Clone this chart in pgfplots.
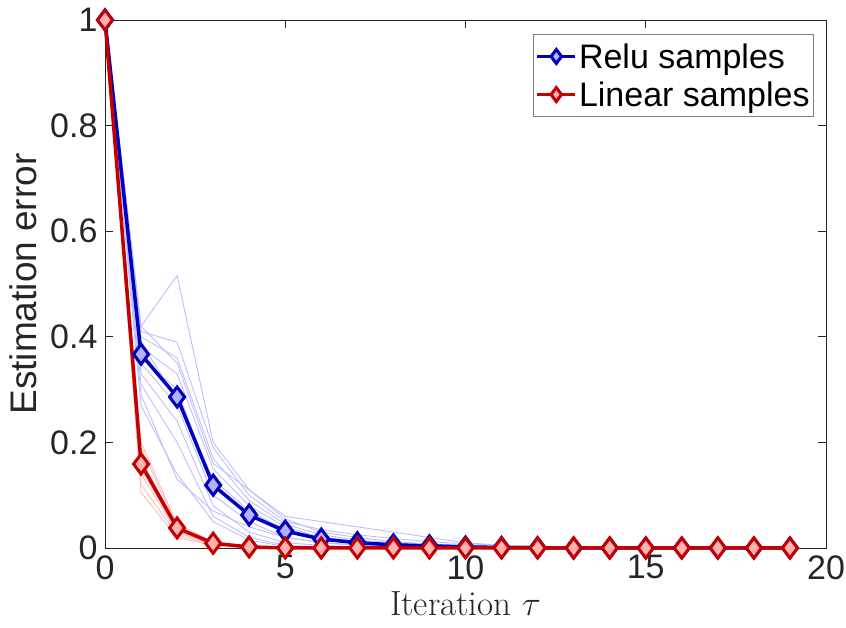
\RequirePackage{fix-cm}
\documentclass[border=0pt]{standalone}
\usepackage{pgfplots}
\pgfplotsset{compat=1.18}
\usepackage{pgfplotstable}
\usepackage{fontspec}
\setsansfont{Liberation Sans}

\definecolor{reluc}{RGB}{0,0,190}
\definecolor{linc}{RGB}{195,0,0}
\definecolor{relufill}{RGB}{178,178,255}
\definecolor{linfill}{RGB}{255,178,178}
\definecolor{axgray}{RGB}{38,38,38}

% relu runs (b1..b12) and their mean
\pgfplotstableread{
it b1 b2 b3 b4 b5 b6 b7 b8 b9 b10 b11 b12 main
0 1 1 1 1 1 1 1 1 1 1 1 1 1
1 0.42 0.41 0.40 0.38 0.36 0.35 0.33 0.31 0.29 0.27 0.42 0.39 0.367
2 0.516 0.39 0.36 0.33 0.30 0.27 0.24 0.20 0.13 0.14 0.35 0.28 0.286
3 0.20 0.19 0.17 0.15 0.12 0.10 0.08 0.06 0.07 0.05 0.16 0.13 0.119
4 0.11 0.10 0.09 0.08 0.06 0.05 0.03 0.02 0.04 0.015 0.11 0.07 0.0625
5 0.055 0.05 0.045 0.04 0.03 0.02 0.01 0.005 0.02 0.003 0.06 0.035 0.032
6 0.03 0.035 0.025 0.02 0.015 0.01 0.005 0.002 0.01 0.001 0.05 0.02 0.017
7 0.02 0.025 0.015 0.012 0.008 0.005 0.002 0.001 0.006 0 0.04 0.012 0.010
8 0.012 0.018 0.01 0.008 0.005 0.003 0.001 0 0.004 0 0.03 0.008 0.006
9 0.008 0.012 0.006 0.005 0.003 0.002 0 0 0.002 0 0.02 0.005 0.004
10 0.005 0.008 0.004 0.003 0.002 0.001 0 0 0.001 0 0.01 0.003 0.002
11 0.003 0.005 0.002 0.002 0.001 0 0 0 0 0 0.005 0.002 0.001
12 0.002 0.003 0.001 0.001 0 0 0 0 0 0 0.003 0.001 0.0005
13 0.001 0.002 0 0 0 0 0 0 0 0 0.002 0 0
14 0 0.001 0 0 0 0 0 0 0 0 0.001 0 0
15 0 0 0 0 0 0 0 0 0 0 0 0 0
16 0 0 0 0 0 0 0 0 0 0 0 0 0
17 0 0 0 0 0 0 0 0 0 0 0 0 0
18 0 0 0 0 0 0 0 0 0 0 0 0 0
19 0 0 0 0 0 0 0 0 0 0 0 0 0
}\relutab

% linear runs (r1..r8) and their mean
\pgfplotstableread{
it r1 r2 r3 r4 r5 r6 r7 r8 main
0 1 1 1 1 1 1 1 1 1
1 0.20 0.19 0.17 0.16 0.15 0.14 0.12 0.105 0.159
2 0.045 0.04 0.038 0.035 0.032 0.03 0.025 0.02 0.038
3 0.012 0.01 0.009 0.008 0.007 0.006 0.005 0.004 0.009
4 0.003 0.002 0.002 0.002 0.001 0.001 0.001 0.001 0.002
5 0 0 0 0 0 0 0 0 0
6 0 0 0 0 0 0 0 0 0
7 0 0 0 0 0 0 0 0 0
8 0 0 0 0 0 0 0 0 0
9 0 0 0 0 0 0 0 0 0
10 0 0 0 0 0 0 0 0 0
11 0 0 0 0 0 0 0 0 0
12 0 0 0 0 0 0 0 0 0
13 0 0 0 0 0 0 0 0 0
14 0 0 0 0 0 0 0 0 0
15 0 0 0 0 0 0 0 0 0
16 0 0 0 0 0 0 0 0 0
17 0 0 0 0 0 0 0 0 0
18 0 0 0 0 0 0 0 0 0
19 0 0 0 0 0 0 0 0 0
}\lintab

\begin{document}
\begin{tikzpicture}
\begin{axis}[
    scale only axis,
    width=721pt, height=528pt,
    xmin=0, xmax=20, ymin=0, ymax=1,
    xtick={0,5,...,20},
    ytick={0,0.2,...,1},
    tick align=inside,
    major tick length=8pt,
    axis line style={axgray, line width=0.8pt},
    every tick/.style={axgray, line width=0.8pt},
    tick label style={font=\fontsize{34}{40}\sffamily, text=axgray},
    /pgf/number format/assume math mode=true,
    xticklabel style={yshift=-4pt},
    yticklabel style={xshift=-4pt},
    xlabel={Iteration $\tau$},
    xlabel style={font=\fontsize{35}{42}\selectfont, text=axgray, yshift=-5pt},
    ylabel={Estimation error},
    ylabel style={font=\fontsize{37}{44}\sffamily, text=axgray, yshift=6pt},
    legend style={at={(rel axis cs:1,1)}, anchor=north east,
        xshift=-12pt, yshift=-14pt,
        draw=gray, line width=0.8pt,
        font=\fontsize{34}{40}\sffamily,
        inner xsep=2pt, inner ysep=7pt,
        row sep=8pt},
    legend cell align=left,
    legend image code/.code={
        \draw[#1, mark=none] (0pt,0pt) -- (38pt,0pt);
        \draw[#1, mark size=7pt, only marks] plot coordinates {(19pt,0pt)};
    },
    clip=false,
]
\pgfplotsinvokeforeach{1,...,12}{
  \addplot[forget plot, color=relufill!85!white, line width=0.9pt] table[x=it, y=b#1]{\relutab};
}
\pgfplotsinvokeforeach{1,...,8}{
  \addplot[forget plot, color=linfill!90!white, line width=0.9pt] table[x=it, y=r#1]{\lintab};
}
\addplot[color=reluc, line width=3.5pt, mark=diamond*, mark size=10pt,
    mark options={fill=relufill, draw=reluc, line width=3pt}]
    table[x=it, y=main]{\relutab};
\addlegendentry{Relu samples}
\addplot[color=linc, line width=3.5pt, mark=diamond*, mark size=10pt,
    mark options={fill=linfill, draw=linc, line width=3pt}]
    table[x=it, y=main]{\lintab};
\addlegendentry{Linear samples}
\end{axis}
\pgfresetboundingbox
\useasboundingbox ([xshift=-105pt, yshift=-80pt]current axis.south west)
    rectangle ([xshift=20pt, yshift=20pt]current axis.north east);
\end{tikzpicture}
\end{document}
